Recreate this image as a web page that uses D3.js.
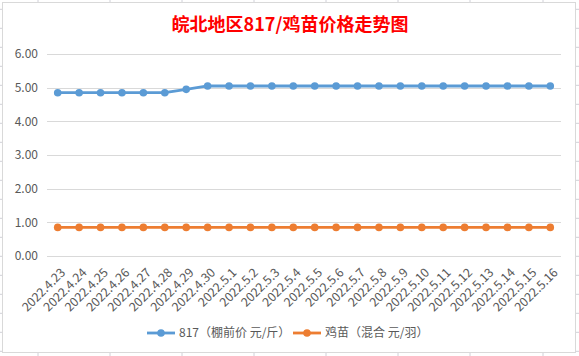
<!DOCTYPE html>
<html><head><meta charset="utf-8">
<script src="https://cdn.jsdelivr.net/npm/d3@7"></script>
<style>
html,body{margin:0;padding:0;background:#fff;}
svg{display:block;}
text{font-family:"Segoe UI","Noto Sans CJK SC","Noto Sans",sans-serif;}
</style></head>
<body>
<svg id="c" width="579" height="356"></svg>
<script>
const categories = ["2022.4.23","2022.4.24","2022.4.25","2022.4.26","2022.4.27","2022.4.28","2022.4.29","2022.4.30","2022.5.1","2022.5.2","2022.5.3","2022.5.4","2022.5.5","2022.5.6","2022.5.7","2022.5.8","2022.5.9","2022.5.10","2022.5.11","2022.5.12","2022.5.13","2022.5.14","2022.5.15","2022.5.16"];
const series817 = [4.85,4.85,4.85,4.85,4.85,4.85,4.95,5.05,5.05,5.05,5.05,5.05,5.05,5.05,5.05,5.05,5.05,5.05,5.05,5.05,5.05,5.05,5.05,5.05];
const seriesChick = [0.85,0.85,0.85,0.85,0.85,0.85,0.85,0.85,0.85,0.85,0.85,0.85,0.85,0.85,0.85,0.85,0.85,0.85,0.85,0.85,0.85,0.85,0.85,0.85];
const yTicks = [0,1,2,3,4,5,6];
const seriesNames = ["817（棚前价 元/斤）","鸡苗（混合 元/羽）"];
const colors = ["#5b9bd5","#ed7d31"];
const title = "皖北地区817/鸡苗价格走势图";

const svg = d3.select("#c");

// spreadsheet background marks
const bg = svg.append("g");
const colXs = [38,110,182,254,326,398,470,543];
const rowYs = d3.range(9.3, 356, 19);
bg.selectAll(".ct").data(colXs).join("line").attr("x1",d=>d).attr("x2",d=>d).attr("y1",0).attr("y2",2).attr("stroke","#d0d0d8");
bg.selectAll(".cb").data(colXs).join("line").attr("x1",d=>d).attr("x2",d=>d).attr("y1",353).attr("y2",356).attr("stroke","#d0d0d8");
bg.selectAll(".rl").data(rowYs).join("line").attr("x1",0).attr("x2",2).attr("y1",d=>d).attr("y2",d=>d).attr("stroke","#d0d0d8");
bg.selectAll(".rr").data(rowYs).join("line").attr("x1",576).attr("x2",579).attr("y1",d=>d).attr("y2",d=>d).attr("stroke","#d0d0d8");
svg.append("rect").attr("x",2.5).attr("y",2.5).attr("width",573).attr("height",350)
  .attr("fill","#fff").attr("stroke","#d9d9d9");

const x = d3.scaleBand().domain(categories).range([47,561]);
const y = d3.scaleLinear().domain([0,6]).range([256,54]);

// gridlines
svg.append("g").selectAll("line").data(yTicks).join("line")
  .attr("x1",47).attr("x2",561).attr("y1",d=>Math.round(y(d))+0.5).attr("y2",d=>Math.round(y(d))+0.5)
  .attr("stroke","#d9d9d9").attr("stroke-width",1);

// y axis
const yAxis = d3.axisLeft(y).tickValues(yTicks).tickFormat(d3.format(".2f")).tickSize(0).tickPadding(0);
const ya = svg.append("g").attr("transform","translate(38,0)").call(yAxis);
ya.select(".domain").remove();
ya.selectAll("text").attr("fill","#595959").style("font-size","12px");

// x axis
const xAxis = d3.axisBottom(x).tickSize(0).tickPadding(0);
const xa = svg.append("g").attr("transform","translate(0,256)").call(xAxis);
xa.select(".domain").remove();
xa.selectAll("text").attr("fill","#595959").style("font-size","12.4px")
  .attr("text-anchor","end").attr("dy",null).attr("y",0)
  .attr("transform","translate(6,15) rotate(-45)").attr("dominant-baseline","middle");

// lines
const cx = d => x(d) + x.bandwidth()/2;
[series817, seriesChick].forEach((s,i)=>{
  const line = d3.line().x((d,j)=>cx(categories[j])).y(d=>y(d));
  svg.append("path").datum(s).attr("d",line).attr("fill","none")
    .attr("stroke",colors[i]).attr("stroke-width",2.8).attr("stroke-linejoin","round").attr("stroke-linecap","round");
  svg.append("g").selectAll("circle").data(s).join("circle")
    .attr("cx",(d,j)=>cx(categories[j])).attr("cy",d=>y(d)).attr("r",3.8).attr("fill",colors[i]);
});

// title
svg.append("text").attr("x",290).attr("y",31).attr("text-anchor","middle")
  .attr("fill","#ff0000").style("font-size","18px").style("font-weight","bold").text(title);

// legend
const legX = [147, 293];
seriesNames.forEach((n,i)=>{
  const g = svg.append("g").attr("transform",`translate(${legX[i]},333)`);
  g.append("line").attr("x1",0).attr("x2",28).attr("stroke",colors[i]).attr("stroke-width",2.8);
  g.append("circle").attr("cx",14).attr("r",3.8).attr("fill",colors[i]);
  g.append("text").attr("x",32).attr("dy","0.35em").attr("fill","#595959").style("font-size","12px").text(n);
});
</script>
</body></html>
